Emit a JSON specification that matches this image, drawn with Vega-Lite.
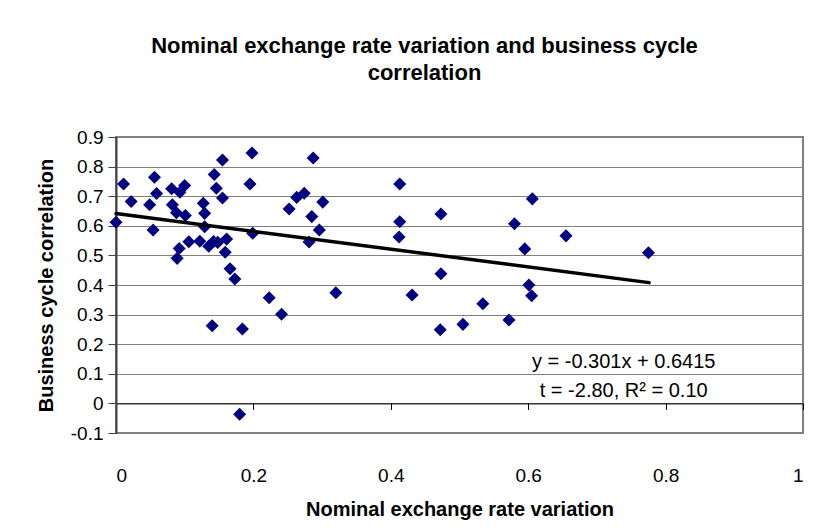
{
  "$schema": "https://vega.github.io/schema/vega-lite/v6.json",
  "width": 687,
  "height": 296,
  "autosize": {"type": "none"},
  "padding": {"left": 116, "top": 137, "right": 27, "bottom": 96},
  "background": "white",
  "title": {
    "text": ["Nominal exchange rate variation and business cycle", "correlation"],
    "font": "Liberation Sans",
    "fontSize": 22,
    "fontWeight": "bold",
    "lineHeight": 27,
    "color": "black",
    "anchor": "middle",
    "frame": "group",
    "offset": 43,
    "dx": -35
  },
  "config": {
    "view": {"stroke": "#808080", "strokeWidth": 2},
    "font": "Liberation Sans",
    "axisY": {"labelOverlap": false}
  },
  "datasets": {
    "points": [
      {"x": 0.000, "y": 0.612}, {"x": 0.011, "y": 0.741}, {"x": 0.022, "y": 0.682},
      {"x": 0.056, "y": 0.764}, {"x": 0.059, "y": 0.709}, {"x": 0.049, "y": 0.671},
      {"x": 0.054, "y": 0.586}, {"x": 0.081, "y": 0.725}, {"x": 0.093, "y": 0.713},
      {"x": 0.100, "y": 0.736}, {"x": 0.082, "y": 0.671}, {"x": 0.088, "y": 0.644},
      {"x": 0.101, "y": 0.635}, {"x": 0.092, "y": 0.523}, {"x": 0.089, "y": 0.490},
      {"x": 0.106, "y": 0.546}, {"x": 0.122, "y": 0.548}, {"x": 0.127, "y": 0.676},
      {"x": 0.129, "y": 0.642}, {"x": 0.129, "y": 0.597}, {"x": 0.135, "y": 0.531},
      {"x": 0.142, "y": 0.547}, {"x": 0.148, "y": 0.544}, {"x": 0.143, "y": 0.773},
      {"x": 0.146, "y": 0.727}, {"x": 0.155, "y": 0.694}, {"x": 0.155, "y": 0.822},
      {"x": 0.161, "y": 0.555}, {"x": 0.159, "y": 0.511}, {"x": 0.166, "y": 0.455},
      {"x": 0.173, "y": 0.420}, {"x": 0.198, "y": 0.846}, {"x": 0.195, "y": 0.741},
      {"x": 0.199, "y": 0.575}, {"x": 0.252, "y": 0.657}, {"x": 0.263, "y": 0.696},
      {"x": 0.274, "y": 0.710}, {"x": 0.287, "y": 0.829}, {"x": 0.285, "y": 0.631},
      {"x": 0.281, "y": 0.545}, {"x": 0.296, "y": 0.586}, {"x": 0.301, "y": 0.680},
      {"x": 0.140, "y": 0.262}, {"x": 0.184, "y": 0.251}, {"x": 0.223, "y": 0.357},
      {"x": 0.241, "y": 0.301}, {"x": 0.320, "y": 0.374}, {"x": 0.180, "y": -0.037},
      {"x": 0.413, "y": 0.741}, {"x": 0.413, "y": 0.614}, {"x": 0.412, "y": 0.562},
      {"x": 0.473, "y": 0.640}, {"x": 0.473, "y": 0.438}, {"x": 0.580, "y": 0.607},
      {"x": 0.606, "y": 0.691}, {"x": 0.595, "y": 0.522}, {"x": 0.601, "y": 0.400},
      {"x": 0.655, "y": 0.566}, {"x": 0.431, "y": 0.366}, {"x": 0.472, "y": 0.249},
      {"x": 0.505, "y": 0.267}, {"x": 0.534, "y": 0.337}, {"x": 0.572, "y": 0.282},
      {"x": 0.605, "y": 0.364}, {"x": 0.775, "y": 0.509}
    ],
    "trend": [
      {"x": 0.0, "y": 0.6415},
      {"x": 0.776, "y": 0.408}
    ]
  },
  "layer": [
    {
      "data": {"name": "points"},
      "mark": {"type": "point", "shape": "diamond", "filled": true, "color": "#000080", "opacity": 1, "size": 170},
      "encoding": {
        "x": {
          "field": "x", "type": "quantitative",
          "scale": {"domain": [0, 1], "nice": false},
          "axis": {
            "orient": "bottom",
            "values": [0, 0.2, 0.4, 0.6, 0.8, 1],
            "format": ".1~f",
            "labelFontSize": 19,
            "labelColor": "black",
            "labelPadding": 33,
            "labelOverlap": false,
            "ticks": false,
            "domain": false,
            "grid": false,
            "title": "Nominal exchange rate variation",
            "titleFontSize": 20,
            "titleFontWeight": "bold",
            "titleColor": "black",
            "titlePadding": 14
          }
        },
        "y": {
          "field": "y", "type": "quantitative",
          "scale": {"domain": [-0.1, 0.9], "nice": false},
          "axis": {
            "orient": "left",
            "values": [-0.1, 0, 0.1, 0.2, 0.3, 0.4, 0.5, 0.6, 0.7, 0.8, 0.9],
            "labelExpr": "replace(format(datum.value, '.1~f'), '\u2212', '-')",
            "labelFontSize": 19,
            "labelColor": "black",
            "labelPadding": 5,
            "labelOverlap": false,
            "tickSize": 8,
            "tickColor": "#404040",
            "domainColor": "#404040",
            "domainWidth": 2,
            "grid": true,
            "gridColor": "#808080",
            "gridWidth": 1,
            "title": "Business cycle correlation",
            "titleFontSize": 20,
            "titleFontWeight": "bold",
            "titleColor": "black",
            "titlePadding": 14
          }
        }
      }
    },
    {
      "data": {"name": "trend"},
      "mark": {"type": "line", "color": "black", "strokeWidth": 3.5, "strokeCap": "round"},
      "encoding": {
        "x": {
          "field": "x", "type": "quantitative",
          "axis": {
            "orient": "bottom",
            "offset": -29.6,
            "values": [0, 0.2, 0.4, 0.6, 0.8, 1],
            "labels": false,
            "title": null,
            "ticks": true,
            "tickSize": 6,
            "tickColor": "black",
            "domainColor": "black",
            "domainWidth": 1,
            "grid": false
          }
        },
        "y": {"field": "y", "type": "quantitative", "axis": null}
      }
    },
    {
      "data": {"values": [{"label": "y = -0.301x + 0.6415"}]},
      "mark": {"type": "text", "fontSize": 20, "color": "black", "align": "center", "baseline": "middle", "font": "Liberation Sans"},
      "encoding": {
        "x": {"datum": 0.739, "type": "quantitative", "axis": null},
        "y": {"datum": 0.14, "type": "quantitative", "axis": null},
        "text": {"field": "label", "type": "nominal"}
      }
    },
    {
      "data": {"values": [{"label": "t = -2.80, R² = 0.10"}]},
      "mark": {"type": "text", "fontSize": 20, "color": "black", "align": "center", "baseline": "middle", "font": "Liberation Sans"},
      "encoding": {
        "x": {"datum": 0.739, "type": "quantitative", "axis": null},
        "y": {"datum": 0.042, "type": "quantitative", "axis": null},
        "text": {"field": "label", "type": "nominal"}
      }
    }
  ],
  "resolve": {"axis": {"x": "independent", "y": "independent"}}
}
